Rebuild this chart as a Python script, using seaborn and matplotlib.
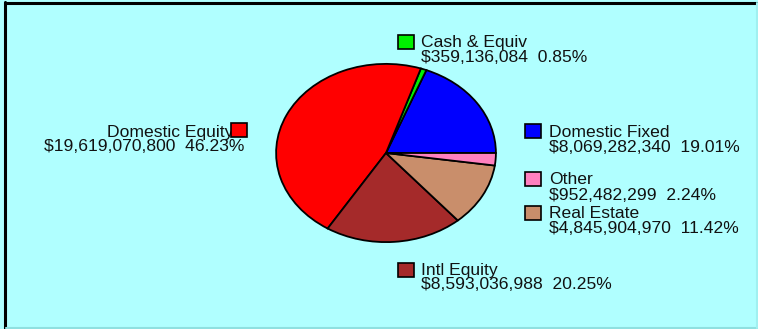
import matplotlib
matplotlib.use("Agg")
import matplotlib.pyplot as plt
from matplotlib.patches import Rectangle
from matplotlib.lines import Line2D
import seaborn as sns

# Portfolio allocation (counter-clockwise from 3 o'clock)
categories = ["Domestic Fixed", "Cash & Equiv", "Domestic Equity",
              "Intl Equity", "Real Estate", "Other"]
amounts = [8069282340, 359136084, 19619070800, 8593036988, 4845904970, 952482299]
colors = ["#0000FF", "#00F000", "#FF0000", "#A52A2A", "#C98E6B", "#FF80C0"]

# Label anchor positions in pixels: (box_left, box_top, text_x, baseline1, baseline2, align)
label_pos = {
    "Cash & Equiv":    (398, 35, 421, 47, 62, "left"),
    "Domestic Fixed":  (525, 124, 549, 137, 152, "left"),
    "Other":           (525, 172, 549, 184, 200, "left"),
    "Real Estate":     (525, 206, 549, 218, 233, "left"),
    "Intl Equity":     (398, 263, 421, 275, 289, "left"),
    "Domestic Equity": (231, 123, 233, 137, 151, "right"),
}

sns.set_theme(style="white")
plt.rcParams["font.family"] = ["Liberation Sans", "DejaVu Sans"]

W, H = 758, 329
BG = "#B0FFFF"
fig = plt.figure(figsize=(W / 100, H / 100), dpi=100)
fig.patch.set_facecolor(BG)


def fx(x):
    return x / W


def fy(y):
    return 1 - y / H


# Elliptical pie: axes box spans the ellipse bounds
left, right, top, bottom = 275, 497, 63, 243
ax = fig.add_axes([fx(left), fy(bottom), (right - left) / W, (bottom - top) / H])
ax.set_facecolor("none")
ax.pie(amounts, colors=colors, startangle=0, counterclock=True,
       wedgeprops=dict(edgecolor="black", linewidth=1.3))
ax.set_aspect("auto")
ax.set_xlim(-1.01, 1.01)
ax.set_ylim(-1.01, 1.01)
ax.axis("off")

total = sum(amounts)
fs = 12.6
for cat, amt, col in zip(categories, amounts, colors):
    bx, by, tx, b1, b2, align = label_pos[cat]
    fig.patches.append(Rectangle((fx(bx), fy(by + 14)), 16 / W, 14 / H,
                                 transform=fig.transFigure, facecolor=col,
                                 edgecolor="black", linewidth=1.2, zorder=3))
    pct = 100 * amt / total
    fig.text(fx(tx), fy(b1), cat, ha=align, va="baseline", fontsize=fs,
             color="#111111", zorder=2)
    x2 = tx if align == "left" else 244
    fig.text(fx(x2), fy(b2), f"${amt:,}  {pct:.2f}%", ha=align, va="baseline",
             fontsize=fs, color="#111111")

# Frame lines around the panel
fig.add_artist(Line2D([fx(5), fx(5)], [fy(2), fy(329)], color="black", lw=2.2,
                      transform=fig.transFigure))
fig.add_artist(Line2D([fx(5), fx(758)], [fy(2.5), fy(2.5)], color="black", lw=2.2,
                      transform=fig.transFigure))
fig.add_artist(Line2D([fx(6), fx(758)], [fy(327.5), fy(327.5)], color="#8FE0E0", lw=1.5,
                      transform=fig.transFigure))
fig.add_artist(Line2D([fx(757), fx(757)], [fy(3), fy(328)], color="#A0F0F0", lw=1.5,
                      transform=fig.transFigure))

fig.savefig("out.png", dpi=100, facecolor=BG)
